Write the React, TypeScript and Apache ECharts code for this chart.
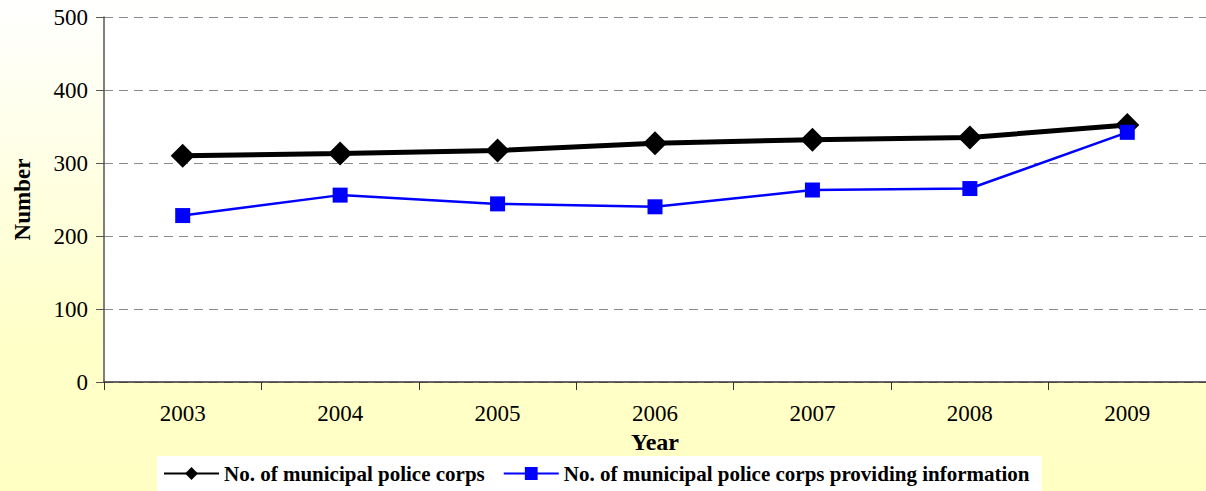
import React, { useEffect, useRef } from "react";
import * as echarts from "echarts";

const years = ["2003", "2004", "2005", "2006", "2007", "2008", "2009"];
const policeCorps = [310, 313, 317, 327, 332, 335, 352];
const providingInfo = [228, 256, 244, 240, 263, 265, 342];
const seriesNames = [
  "No. of municipal police corps",
  "No. of municipal police corps providing information",
];

const FONT = "Liberation Serif";

const tickLabel = {
  fontFamily: FONT,
  fontSize: 23,
  fontWeight: "normal",
  color: "#000",
};

export default function App() {
  const ref = useRef<HTMLDivElement>(null);
  useEffect(() => {
    if (!ref.current) return;
    const chart = echarts.init(ref.current, null, { renderer: "svg" });
    chart.setOption({
      animation: false,
      backgroundColor: {
        type: "linear",
        x: 0,
        y: 0,
        x2: 0,
        y2: 1,
        colorStops: [
          { offset: 0, color: "#ffffff" },
          { offset: 0.7, color: "#ffffc8" },
          { offset: 1, color: "#ffffc4" },
        ],
      },
      textStyle: { fontFamily: FONT, fontSize: 23, color: "#000" },
      grid: {
        left: 104,
        right: 0,
        top: 17,
        bottom: 109,
        show: true,
        backgroundColor: "#ffffff",
        borderWidth: 0,
        containLabel: false,
        outerBoundsMode: "none",
      },
      legend: {
        left: 157,
        top: 456,
        backgroundColor: "#ffffff",
        padding: [7, 12, 10, 6],
        itemGap: 18,
        itemWidth: 55,
        itemHeight: 16,
        textStyle: { fontFamily: FONT, fontSize: 21, fontWeight: "bold", color: "#000" },
        data: [
          { name: seriesNames[0] },
          { name: seriesNames[1] },
        ],
      },
      xAxis: {
        type: "category",
        data: years.map((y) => ({ value: y, textStyle: tickLabel })),
        boundaryGap: true,
        name: "Year",
        nameLocation: "middle",
        nameGap: 47,
        nameTextStyle: { fontFamily: FONT, fontSize: 24, fontWeight: "bold", color: "#000" },
        axisLine: { lineStyle: { color: "#333", width: 1.5 } },
        axisTick: { show: true, interval: 0, length: 8, inside: false, lineStyle: { color: "#333" } },
        axisLabel: { ...tickLabel, margin: 20, interval: 0 },
        splitLine: { show: false },
      },
      yAxis: {
        type: "value",
        min: 0,
        max: 500,
        interval: 100,
        name: "Number",
        nameLocation: "middle",
        nameGap: 70,
        nameRotate: 90,
        nameTextStyle: { fontFamily: FONT, fontSize: 23, fontWeight: "bold", color: "#000" },
        axisLine: { show: true, lineStyle: { color: "#555", width: 1.5 } },
        axisTick: { show: true, length: 8, inside: false, lineStyle: { color: "#555" } },
        axisLabel: { ...tickLabel, margin: 16 },
        splitLine: { show: true, lineStyle: { color: "#8a8a8a", type: [9, 6], width: 1 } },
      },
      series: [
        {
          name: seriesNames[0],
          type: "line",
          data: policeCorps,
          symbol: "diamond",
          symbolSize: 24,
          lineStyle: { color: "#000", width: 5 },
          itemStyle: { color: "#000" },
          z: 3,
        },
        {
          name: seriesNames[1],
          type: "line",
          data: providingInfo,
          symbol: "rect",
          symbolSize: 15,
          lineStyle: { color: "#0000ff", width: 2.5 },
          itemStyle: { color: "#0000ff" },
          z: 4,
        },
      ],
    });
    return () => chart.dispose();
  }, []);
  return (
    <div
      ref={ref}
      style={{ width: 1206, height: 491, position: "absolute", left: 0, top: 0 }}
    />
  );
}
